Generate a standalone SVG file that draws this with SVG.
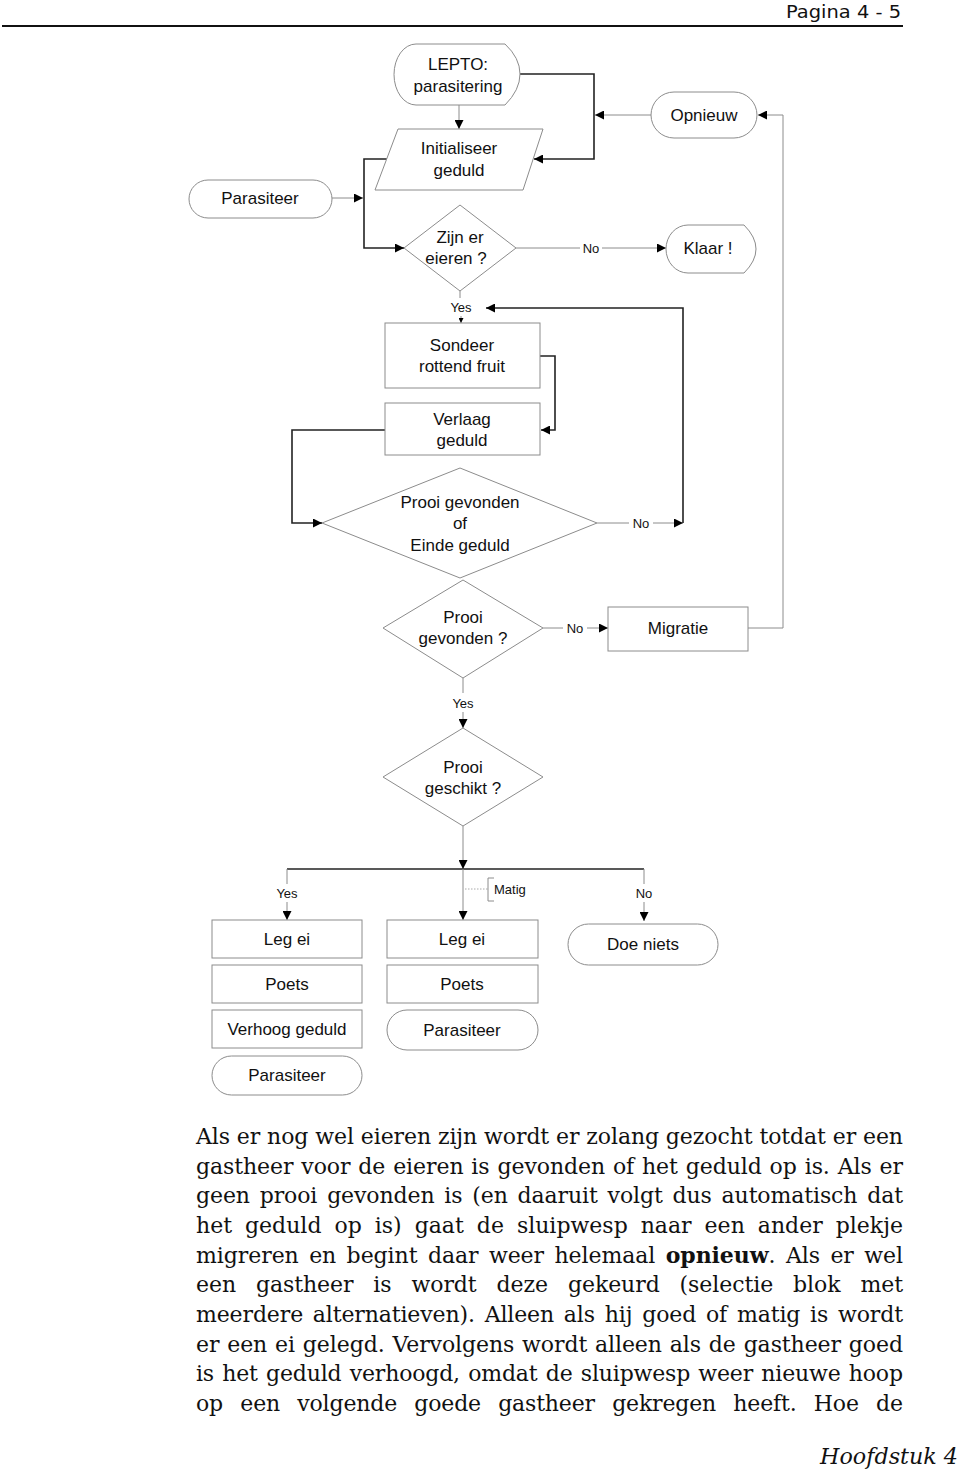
<svg xmlns="http://www.w3.org/2000/svg" width="960" height="1473" viewBox="0 0 960 1473">
<style>
.n{fill:#fff;stroke:#8c8c8c;stroke-width:1}
.t{font-family:"Liberation Sans",Arial,sans-serif;font-size:17px;fill:#111;text-anchor:middle}
.lb{font-size:13px}
.cg{fill:none;stroke:#8c8c8c;stroke-width:1}
.cd{fill:none;stroke:#222;stroke-width:1.6}
.p{font-family:"DejaVu Serif",Georgia,serif;font-size:22px;fill:#111}
</style>
<defs>
<marker id="ah" viewBox="0 0 10 10" refX="10" refY="5" markerWidth="10" markerHeight="9" markerUnits="userSpaceOnUse" orient="auto"><path d="M0,0 L10,5 L0,10 z" fill="#000"/></marker>
<marker id="as" viewBox="0 0 10 10" refX="10" refY="5" markerWidth="5" markerHeight="5" markerUnits="userSpaceOnUse" orient="auto"><path d="M0,0 L10,5 L0,10 z" fill="#000"/></marker>
</defs>
<rect width="960" height="1473" fill="#fff"/>

<g id="header">
<text x="901" y="18" font-family="DejaVu Sans,Verdana,sans-serif" font-size="18" fill="#111" text-anchor="end" textLength="115" lengthAdjust="spacingAndGlyphs">Pagina 4 - 5</text>
<line x1="2" y1="26" x2="903" y2="26" stroke="#111" stroke-width="2"/>
</g>

<g id="connectors">
<path class="cg" d="M459 105 V129" marker-end="url(#ah)"/>
<path class="cd" d="M520 74 H594 V159 H534" marker-end="url(#ah)"/>
<path class="cg" d="M651 115 H595" marker-end="url(#ah)"/>
<path class="cg" d="M748 628 H783 V115 H758" marker-end="url(#ah)"/>
<path class="cd" d="M387 159 H364 V248 H404" marker-end="url(#ah)"/>
<path class="cg" d="M332 198 H363" marker-end="url(#ah)"/>
<path class="cg" d="M516 248 H580"/>
<path class="cg" d="M602 248 H666" marker-end="url(#ah)"/>
<path class="cg" d="M460 291 V298"/>
<path class="cg" d="M461 316 V323" marker-end="url(#as)"/>
<path class="cd" d="M540 356 H555 V430 H541" marker-end="url(#ah)"/>
<path class="cd" d="M385 430 H292 V523 H322" marker-end="url(#ah)"/>
<path class="cg" d="M597 523 H629"/>
<path class="cg" d="M653 523 H683" marker-end="url(#ah)"/>
<path class="cd" d="M683 523 V308 H486" marker-end="url(#ah)"/>
<path class="cg" d="M543 628 H563"/>
<path class="cg" d="M587 628 H608" marker-end="url(#ah)"/>
<path class="cg" d="M463 678 V693"/>
<path class="cg" d="M463 712 V728" marker-end="url(#ah)"/>
<path class="cg" d="M463 826 V869" marker-end="url(#ah)"/>
<path class="cd" d="M287 869 H644"/>
<path class="cg" d="M287 869 V884"/>
<path class="cg" d="M287 902 V920" marker-end="url(#ah)"/>
<path class="cg" d="M463 869 V920" marker-end="url(#ah)"/>
<path class="cg" d="M644 869 V884"/>
<path class="cg" d="M644 902 V921" marker-end="url(#ah)"/>
<path d="M465 889 H488" fill="none" stroke="#aaa" stroke-width="1" stroke-dasharray="1.5 1.5"/>
<path class="cg" d="M494 878 H488 V901 H494"/>
<text class="t lb" x="591" y="253">No</text>
<text class="t lb" x="461" y="312">Yes</text>
<text class="t lb" x="641" y="528">No</text>
<text class="t lb" x="575" y="633">No</text>
<text class="t lb" x="463" y="708">Yes</text>
<text class="t lb" x="287" y="898">Yes</text>
<text class="t lb" x="644" y="898">No</text>
<text class="t lb" x="494" y="894" style="text-anchor:start">Matig</text>
</g>

<g id="lepto">
<path class="n" d="M416 44 L505 44 Q520 58 520 74 Q520 90 505 105 L416 105 A22 30.5 0 0 1 416 44 Z"/>
<text class="t" x="458" y="70">LEPTO:</text>
<text class="t" x="458" y="92">parasitering</text>
</g>
<g id="initialiseer">
<polygon class="n" points="398,129 543,129 523,190 375,190"/>
<text class="t" x="459" y="154">Initialiseer</text>
<text class="t" x="459" y="176">geduld</text>
</g>
<g id="parasiteer-start">
<rect class="n" x="189" y="180" width="143" height="38" rx="19"/>
<text class="t" x="260" y="204">Parasiteer</text>
</g>
<g id="opnieuw">
<rect class="n" x="651" y="92" width="106" height="46" rx="23"/>
<text class="t" x="704" y="121">Opnieuw</text>
</g>
<g id="zijn-er-eieren">
<polygon class="n" points="460,205 516,248 460,291 404,248"/>
<text class="t" x="460" y="243">Zijn er</text>
<text class="t" x="456" y="264">eieren ?</text>
</g>
<g id="klaar">
<path class="n" d="M688 225 L744 225 Q756 237 756 249 Q756 261 744 273 L688 273 A22 24 0 0 1 688 225 Z"/>
<text class="t" x="708" y="254">Klaar !</text>
</g>
<g id="sondeer">
<rect class="n" x="385" y="323" width="155" height="65"/>
<text class="t" x="462" y="351">Sondeer</text>
<text class="t" x="462" y="372">rottend fruit</text>
</g>
<g id="verlaag">
<rect class="n" x="385" y="403" width="155" height="52"/>
<text class="t" x="462" y="425">Verlaag</text>
<text class="t" x="462" y="446">geduld</text>
</g>
<g id="prooi-of-einde">
<polygon class="n" points="460,468 597,523 460,578 322,523"/>
<text class="t" x="460" y="508">Prooi gevonden</text>
<text class="t" x="460" y="529">of</text>
<text class="t" x="460" y="551">Einde geduld</text>
</g>
<g id="prooi-gevonden">
<polygon class="n" points="463,580 543,628 463,678 383,628"/>
<text class="t" x="463" y="623">Prooi</text>
<text class="t" x="463" y="644">gevonden ?</text>
</g>
<g id="migratie">
<rect class="n" x="608" y="607" width="140" height="44"/>
<text class="t" x="678" y="634">Migratie</text>
</g>
<g id="prooi-geschikt">
<polygon class="n" points="463,728 543,777 463,826 383,777"/>
<text class="t" x="463" y="773">Prooi</text>
<text class="t" x="463" y="794">geschikt ?</text>
</g>
<g id="yes-leg-ei">
<rect class="n" x="212" y="920" width="150" height="38"/>
<text class="t" x="287" y="945">Leg ei</text>
</g>
<g id="yes-poets">
<rect class="n" x="212" y="965" width="150" height="38"/>
<text class="t" x="287" y="990">Poets</text>
</g>
<g id="yes-verhoog">
<rect class="n" x="212" y="1010" width="150" height="38"/>
<text class="t" x="287" y="1035">Verhoog geduld</text>
</g>
<g id="yes-parasiteer">
<rect class="n" x="212" y="1056" width="150" height="39" rx="19.5"/>
<text class="t" x="287" y="1081">Parasiteer</text>
</g>
<g id="matig-leg-ei">
<rect class="n" x="387" y="920" width="151" height="38"/>
<text class="t" x="462" y="945">Leg ei</text>
</g>
<g id="matig-poets">
<rect class="n" x="387" y="965" width="151" height="38"/>
<text class="t" x="462" y="990">Poets</text>
</g>
<g id="matig-parasiteer">
<rect class="n" x="387" y="1010" width="151" height="40" rx="20"/>
<text class="t" x="462" y="1036">Parasiteer</text>
</g>
<g id="doe-niets">
<rect class="n" x="568" y="924" width="150" height="41" rx="20.5"/>
<text class="t" x="643" y="950">Doe niets</text>
</g>

<g id="paragraph" class="p">
<text x="196" y="1144" textLength="707" lengthAdjust="spacing">Als er nog wel eieren zijn wordt er zolang gezocht totdat er een</text>
<text x="196" y="1173.7" word-spacing="1" textLength="707" lengthAdjust="spacing">gastheer voor de eieren is gevonden of het geduld op is. Als er</text>
<text x="196" y="1203.3" word-spacing="3" textLength="707" lengthAdjust="spacing">geen prooi gevonden is (en daaruit volgt dus automatisch dat</text>
<text x="196" y="1233" word-spacing="6" textLength="707" lengthAdjust="spacing">het geduld op is) gaat de sluipwesp naar een ander plekje</text>
<text x="196" y="1262.7" word-spacing="3.5" textLength="707" lengthAdjust="spacing">migreren en begint daar weer helemaal <tspan font-weight="bold">opnieuw</tspan>. Als er wel</text>
<text x="196" y="1292.3" word-spacing="13" textLength="707" lengthAdjust="spacing">een gastheer is wordt deze gekeurd (selectie blok met</text>
<text x="196" y="1322" word-spacing="3" textLength="707" lengthAdjust="spacing">meerdere alternatieven). Alleen als hij goed of matig is wordt</text>
<text x="196" y="1351.7" word-spacing="1" textLength="707" lengthAdjust="spacing">er een ei gelegd. Vervolgens wordt alleen als de gastheer goed</text>
<text x="196" y="1381.3" word-spacing="1.5" textLength="707" lengthAdjust="spacing">is het geduld verhoogd, omdat de sluipwesp weer nieuwe hoop</text>
<text x="196" y="1411" word-spacing="10.5" textLength="707" lengthAdjust="spacing">op een volgende goede gastheer gekregen heeft. Hoe de</text>
</g>
<g id="footer">
<text x="958" y="1464" font-family="DejaVu Serif,Georgia,serif" font-style="italic" font-size="22" fill="#111" text-anchor="end" textLength="138" lengthAdjust="spacingAndGlyphs">Hoofdstuk 4</text>
</g>
</svg>
